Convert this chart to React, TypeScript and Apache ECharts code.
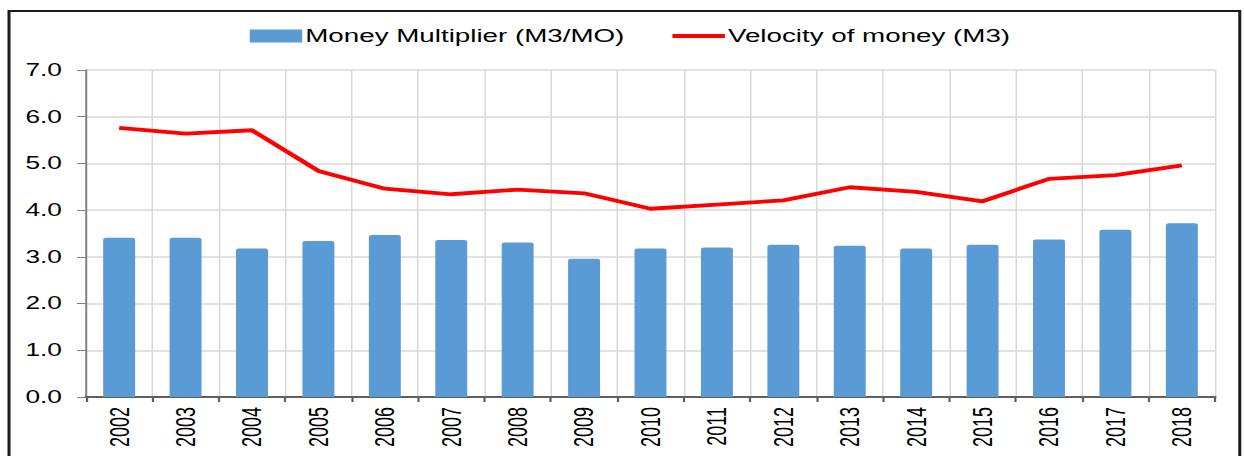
import React, { useEffect, useRef } from "react";
import * as echarts from "echarts";

const SCALE_X = 1.5;
const W = 1244 / SCALE_X;
const H = 456;

const years = ["2002", "2003", "2004", "2005", "2006", "2007", "2008", "2009", "2010", "2011", "2012", "2013", "2014", "2015", "2016", "2017", "2018"];
const moneyMultiplier = [3.41, 3.41, 3.18, 3.34, 3.47, 3.36, 3.31, 2.96, 3.18, 3.2, 3.26, 3.24, 3.18, 3.26, 3.37, 3.58, 3.72];
const velocity = [5.76, 5.64, 5.71, 4.84, 4.46, 4.34, 4.44, 4.36, 4.03, 4.12, 4.21, 4.49, 4.39, 4.19, 4.67, 4.75, 4.96];
const seriesNames = ["Money Multiplier (M3/MO)", "Velocity of money (M3)"];

const FONT = "'Liberation Sans', Arial, sans-serif";

export default function App() {
  const ref = useRef<HTMLDivElement>(null);
  useEffect(() => {
    if (!ref.current) return;
    const chart = echarts.init(ref.current, null, { renderer: "svg", width: W, height: H });
    chart.setOption({
      animation: false,
      backgroundColor: "#ffffff",
      textStyle: { fontFamily: FONT },
      graphic: [
        {
          type: "rect",
          shape: { x: 6, y: 11, width: 820.5, height: 520 },
          style: { fill: "none", stroke: "#1a1a1a", lineWidth: 2 },
          silent: true,
        },
      ],
      legend: {
        left: 161.5,
        top: 21.5,
        itemGap: 30,
        itemWidth: 35,
        itemHeight: 13,
        textStyle: { fontSize: 18.5, color: "#000", fontFamily: FONT, padding: [0, 0, 0, -3] },
        data: [
          { name: seriesNames[0], icon: "rect" },
          { name: seriesNames[1], lineStyle: { width: 4 }, itemStyle: { opacity: 0 } },
        ],
      },
      grid: { left: 57.3, right: 19.3, top: 70, bottom: 59 },
      xAxis: {
        type: "category",
        data: years,
        boundaryGap: true,
        axisLine: { lineStyle: { color: "#5f5f5f", width: 2 } },
        axisTick: { show: true, interval: 0, length: 5, lineStyle: { color: "#5f5f5f", width: 1.5 } },
        axisLabel: { interval: 0, rotate: 90, fontSize: 18, color: "#000", margin: 10, fontFamily: FONT },
        splitLine: { show: true, interval: 0, lineStyle: { color: "#d9d9d9", width: 1 } },
      },
      yAxis: {
        type: "value",
        min: 0,
        max: 7,
        interval: 1,
        axisLine: { show: true, lineStyle: { color: "#808080", width: 1.3 } },
        axisTick: { show: true, length: 6, lineStyle: { color: "#808080" } },
        axisLabel: {
          fontSize: 17.5,
          color: "#000",
          margin: 16,
          fontFamily: FONT,
          formatter: (v: number) => v.toFixed(1),
        },
        splitLine: { show: true, lineStyle: { color: "#d9d9d9", width: 1.5 } },
      },
      series: [
        {
          name: seriesNames[0],
          type: "bar",
          data: moneyMultiplier,
          barWidth: 21.3,
          itemStyle: { color: "#5B9BD5", borderRadius: [2, 2, 0, 0] },
        },
        {
          name: seriesNames[1],
          type: "line",
          data: velocity,
          symbol: "none",
          showSymbol: false,
          lineStyle: { color: "#ff0000", width: 3.8 },
          itemStyle: { color: "#ff0000" },
        },
      ],
    });
    return () => chart.dispose();
  }, []);
  return (
    <div
      ref={ref}
      style={{
        position: "fixed",
        left: 0,
        top: 0,
        width: W,
        height: H,
        transform: `scaleX(${SCALE_X})`,
        transformOrigin: "0 0",
      }}
    />
  );
}
